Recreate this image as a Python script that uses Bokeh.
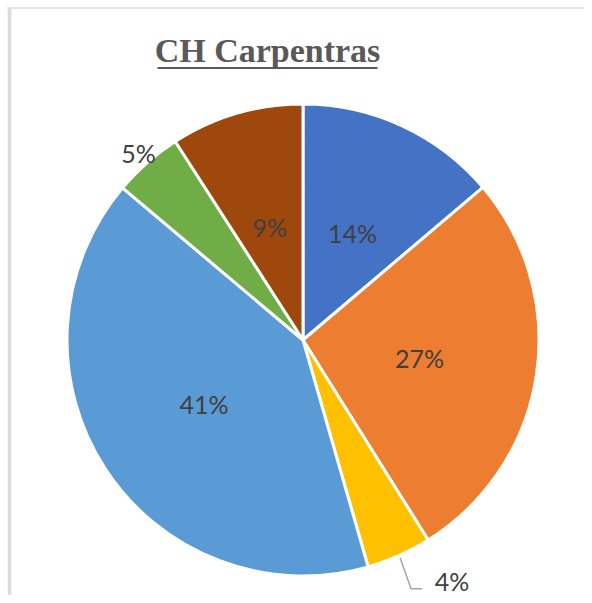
import math
from bokeh.plotting import figure
from bokeh.models import Range1d
from bokeh.core.properties import value
from bokeh.embed import file_html
from bokeh.resources import INLINE

title_text = "CH Carpentras"
labels = ["14%", "27%", "4%", "41%", "5%", "9%"]
values = [13.8, 27.3, 4.45, 40.6, 4.75, 9.1]
colors = ["#4472C4", "#ED7D31", "#FFC000", "#5B9BD5", "#70AD47", "#9E480E"]
label_pos = ["inside", "inside", "leader", "inside", "outside", "inside"]

W, H = 584, 595
p = figure(width=W, height=H, output_backend="svg", toolbar_location=None,
           x_range=Range1d(0, W), y_range=Range1d(0, H),
           min_border=0, match_aspect=False)
p.axis.visible = False
p.grid.visible = False
p.outline_line_color = None
p.background_fill_color = "white"
p.border_fill_color = "white"


def sy(y):
    # screen y (from top) to data y
    return H - y


# frame border lines (left and top)
p.line([9, 9], [sy(7), sy(H)], line_color="#DCDCDC", line_width=3.5)
p.line([7, W], [sy(7.5), sy(7.5)], line_color="#DCDCDC", line_width=1.5)

cx, cy, R = 302.5, sy(339.5), 236
total = float(sum(values))
starts, ends, mids = [], [], []
cum = 0.0
for v in values:
    a0 = math.pi / 2 - 2 * math.pi * cum / total
    cum += v
    a1 = math.pi / 2 - 2 * math.pi * cum / total
    starts.append(a0)
    ends.append(a1)
    mids.append((a0 + a1) / 2)

p.wedge(x=[cx] * len(values), y=[cy] * len(values), radius=R,
        start_angle=starts, end_angle=ends, direction="clock",
        fill_color=colors, line_color="white", line_width=3)

lx, ly, ltxt = [], [], []
for lab, m, pos in zip(labels, mids, label_pos):
    if pos == "inside":
        r = 0.5 * R
        lx.append(cx + r * math.cos(m)); ly.append(cy + r * math.sin(m)); ltxt.append(lab)
    elif pos == "outside":
        r = 1.055 * R
        lx.append(cx + r * math.cos(m)); ly.append(cy + r * math.sin(m)); ltxt.append(lab)
    else:
        r = 1.01 * R
        x0, y0 = cx + r * math.cos(m), cy + r * math.sin(m)
        p.line([x0, x0 + 11, x0 + 22], [y0, y0 - 31, y0 - 31],
               line_color="#A6A6A6", line_width=1.5)
        lx.append(x0 + 52); ly.append(y0 - 23); ltxt.append(lab)

p.text(x=lx, y=ly, text=ltxt, text_font=value("Lato"), text_font_size="25px",
       text_color="#404040", text_align="center", text_baseline="middle")

# title with underline
tx, ty = 267, sy(50)
p.text(x=[tx], y=[ty], text=[title_text], text_font=value("Liberation Serif"),
       text_font_style="bold", text_font_size="34px", text_color="#595959",
       text_align="center", text_baseline="middle")
p.line([157, 377], [sy(67.5), sy(67.5)], line_color="#595959", line_width=2.2)

open("out.html", "w").write(file_html(p, INLINE))
